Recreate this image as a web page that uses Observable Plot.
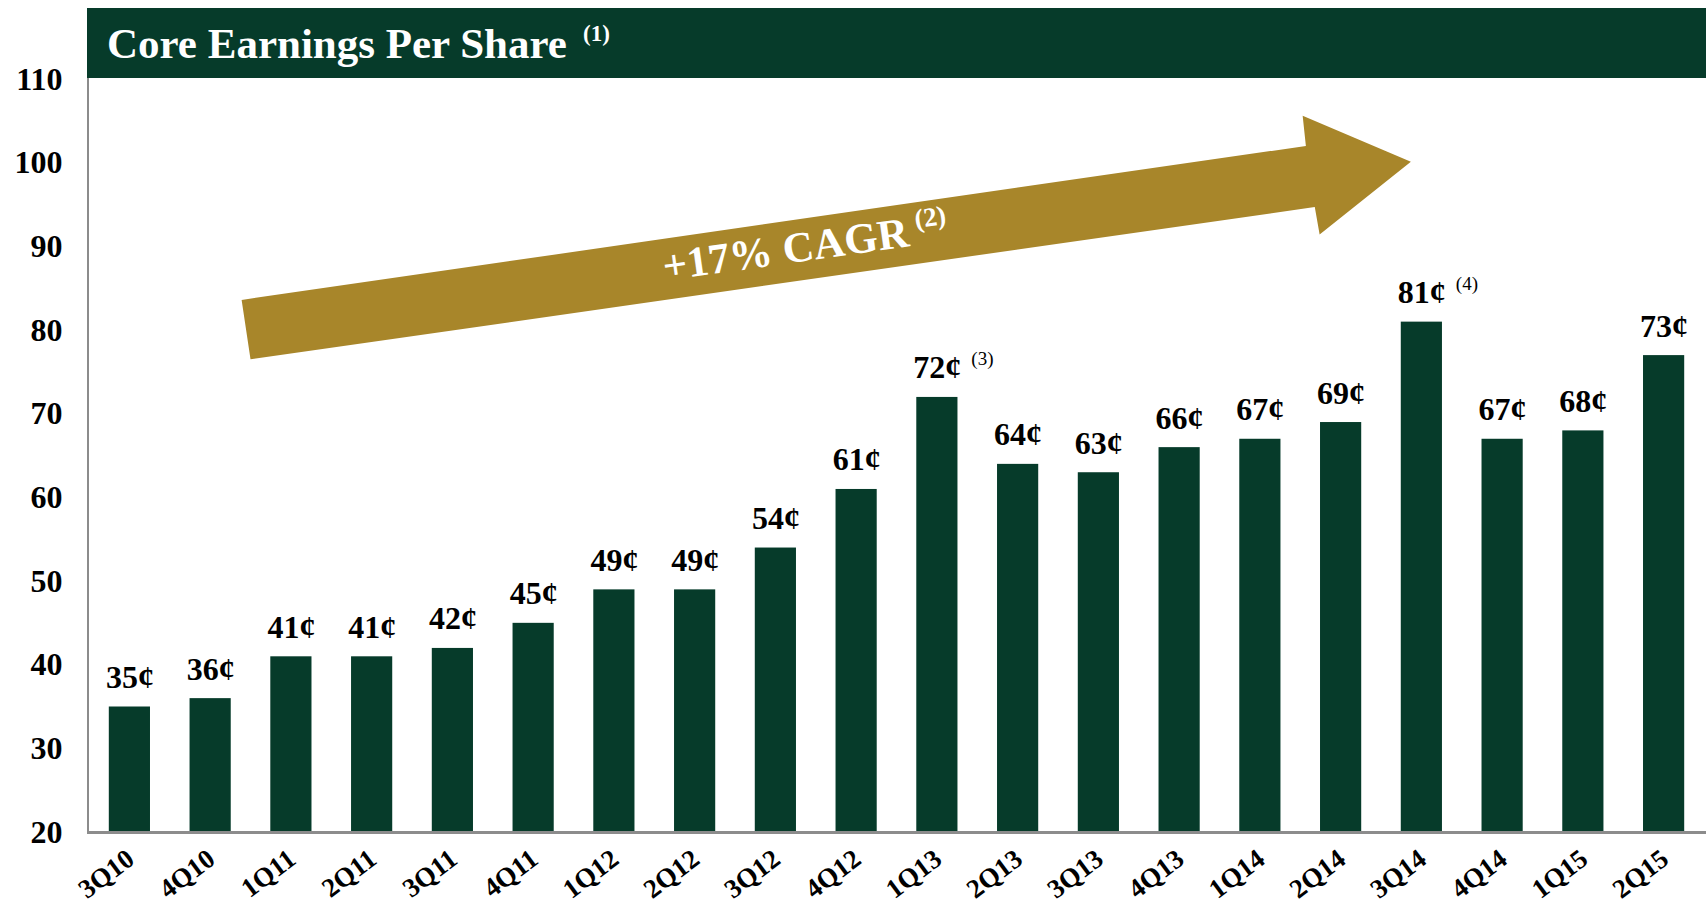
<!DOCTYPE html>
<html><head><meta charset="utf-8">
<script src="https://cdn.jsdelivr.net/npm/d3@7"></script>
<script src="https://cdn.jsdelivr.net/npm/@observablehq/plot@0.6"></script>
<style>
body{margin:0;background:#fff;}
#wrap{position:relative;width:1706px;height:907px;overflow:hidden;}
#chart{position:absolute;left:0;top:0;}
#banner{position:absolute;left:87px;top:8px;width:1619px;height:70px;background:#063b2a;}
#banner svg{display:block;}
</style>
</head><body>
<div id="wrap">
  <div id="chart"></div>
  <div id="banner">
    <svg width="1619" height="70" font-family="'Liberation Serif', 'Times New Roman', serif" font-weight="bold" fill="#ffffff">
      <text x="20" y="50" font-size="43" text-anchor="start">Core Earnings Per Share</text>
      <text x="496" y="33" font-size="23" text-anchor="start">(1)</text>
    </svg>
  </div>
</div>
<script>
const quarters = ["3Q10","4Q10","1Q11","2Q11","3Q11","4Q11","1Q12","2Q12","3Q12","4Q12","1Q13","2Q13","3Q13","4Q13","1Q14","2Q14","3Q14","4Q14","1Q15","2Q15"];
const eps = [35,36,41,41,42,45,49,49,54,61,72,64,63,66,67,69,81,67,68,77];
const epsLabels = ["35¢","36¢","41¢","41¢","42¢","45¢","49¢","49¢","54¢","61¢","72¢","64¢","63¢","66¢","67¢","69¢","81¢","67¢","68¢","73¢"];
const yTicks = [20,30,40,50,60,70,80,90,100,110];
const noteQuarters = ["1Q13","3Q14"];
const noteTexts = ["(3)","(4)"];
const cagrText = "+17% CAGR";
const cagrNote = "(2)";
// arrow outline in data units: [quarter index (fractional), cents]
const arrowShape = [[1.39,83.6],[14.57,102.0],[14.53,105.6],[15.87,100.1],[14.74,91.4],[14.68,94.7],[1.50,76.5]];
const cagrAnchor = [6.63,85.9];

const data = quarters.map((q,i)=>({q, v: eps[i], label: epsLabels[i]}));
const notes = noteQuarters.map((q,i)=>({q, v: eps[quarters.indexOf(q)], t: noteTexts[i]}));

const FONT = "'Liberation Serif', 'Times New Roman', serif";
const padInner = 0.49;
const GREEN = "#063b2a";
const GOLD = "#a8862a";
const GREY = "#8c8c8c";

function annotations(index, scales, values, dimensions) {
  const x = scales.x, y = scales.y;
  const x0 = x(quarters[0]), x1 = x(quarters[1]);
  const step = x1 - x0;
  const bw = step * (1 - padInner);
  const px = i => x0 + bw / 2 + i * step;
  const {marginLeft, marginTop, height, marginBottom, width} = dimensions;
  const g = d3.create("svg:g");
  g.append("path")
    .attr("d", "M" + arrowShape.map(([i, v]) => px(i) + "," + y(v)).join("L") + "Z")
    .attr("fill", GOLD);
  const tx = px(cagrAnchor[0]), ty = y(cagrAnchor[1]);
  const t = g.append("text")
    .attr("transform", `translate(${tx},${ty}) rotate(-8)`)
    .attr("text-anchor", "start")
    .attr("font-family", FONT).attr("font-weight", "bold").attr("fill", "#fff");
  t.append("tspan").attr("font-size", 43).text(cagrText);
  t.append("tspan").attr("font-size", 27).attr("dx", 8).attr("dy", -17).text(cagrNote);
  // axis lines
  g.append("line").attr("x1", marginLeft + 1).attr("x2", marginLeft + 1)
    .attr("y1", marginTop - 1).attr("y2", height - marginBottom)
    .attr("stroke", GREY).attr("stroke-width", 2);
  g.append("line").attr("x1", marginLeft).attr("x2", width)
    .attr("y1", height - marginBottom + 0.5).attr("y2", height - marginBottom + 0.5)
    .attr("stroke", GREY).attr("stroke-width", 3);
  return g.node();
}

const chart = Plot.plot({
  width: 1706,
  height: 907,
  marginLeft: 87,
  marginRight: 0,
  marginTop: 79,
  marginBottom: 75,
  style: {fontFamily: FONT, background: "transparent"},
  x: {domain: quarters, paddingInner: padInner, paddingOuter: 0.27, round: false, axis: null},
  y: {domain: [20, 110], axis: null},
  marks: [
    Plot.barY(data, {x: "q", y1: 20, y2: "v", fill: GREEN}),
    Plot.text(data, {x: "q", y: "v", text: "label", lineAnchor: "bottom", dy: -19, fontSize: 32, fontWeight: "bold", fill: "#000"}),
    Plot.text(notes, {x: "q", y: "v", text: "t", lineAnchor: "bottom", textAnchor: "start", dx: 34, dy: -32, fontSize: 19, fill: "#000"}),
    Plot.text(quarters, {x: d => d, frameAnchor: "bottom", text: d => d, rotate: -37, textAnchor: "end", lineAnchor: "middle", dx: 1, dy: 23, fontSize: 27, fontWeight: "bold", fill: "#000"}),
    Plot.text(yTicks, {y: d => d, frameAnchor: "left", text: d => String(d), textAnchor: "end", dx: -25, fontSize: 32, fontWeight: "bold", fill: "#000"}),
    annotations
  ]
});
document.getElementById("chart").appendChild(chart);
</script>
</body></html>
